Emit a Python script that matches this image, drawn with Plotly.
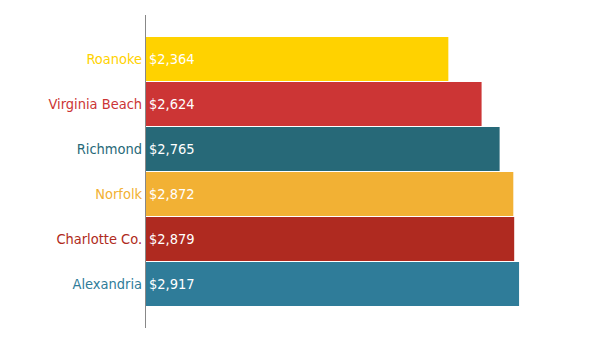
import plotly.graph_objects as go

cities = ["Roanoke", "Virginia Beach", "Richmond", "Norfolk", "Charlotte Co.", "Alexandria"]
values = [2364, 2624, 2765, 2872, 2879, 2917]
value_labels = ["$2,364", "$2,624", "$2,765", "$2,872", "$2,879", "$2,917"]
colors = ["#FFD200", "#CC3535", "#276978", "#F2B134", "#AF2A20", "#2F7C99"]

FONT = "DejaVu Sans Condensed, Liberation Sans Narrow, sans-serif"

tick_text = [f'<span style="color:{c}">{n}</span>' for n, c in zip(cities, colors)]

fig = go.Figure(go.Bar(
    y=cities,
    x=values,
    orientation="h",
    marker=dict(color=colors, line=dict(width=0)),
    text=value_labels,
    textposition="inside",
    insidetextanchor="start",
    textfont=dict(color="white", size=14.5, family=FONT),
    hoverinfo="none",
))

fig.update_layout(
    width=597, height=351,
    margin=dict(l=146, r=20, t=15, b=23),
    plot_bgcolor="white", paper_bgcolor="white",
    bargap=0.022,
    showlegend=False,
    font=dict(family=FONT, size=14.5),
    uniformtext=dict(minsize=14.5, mode="show"),
)
fig.update_xaxes(range=[0, 3370], visible=False, fixedrange=True)
fig.update_yaxes(
    categoryorder="array", categoryarray=cities,
    range=[5.978, -0.978],
    tickmode="array", tickvals=cities, ticktext=tick_text,
    showline=True, linecolor="#888888", linewidth=1,
    showgrid=False, zeroline=False, ticks="",
    ticklabelstandoff=0,
    tickfont=dict(size=14.5, family=FONT),
)

fig.write_html("out.html")
